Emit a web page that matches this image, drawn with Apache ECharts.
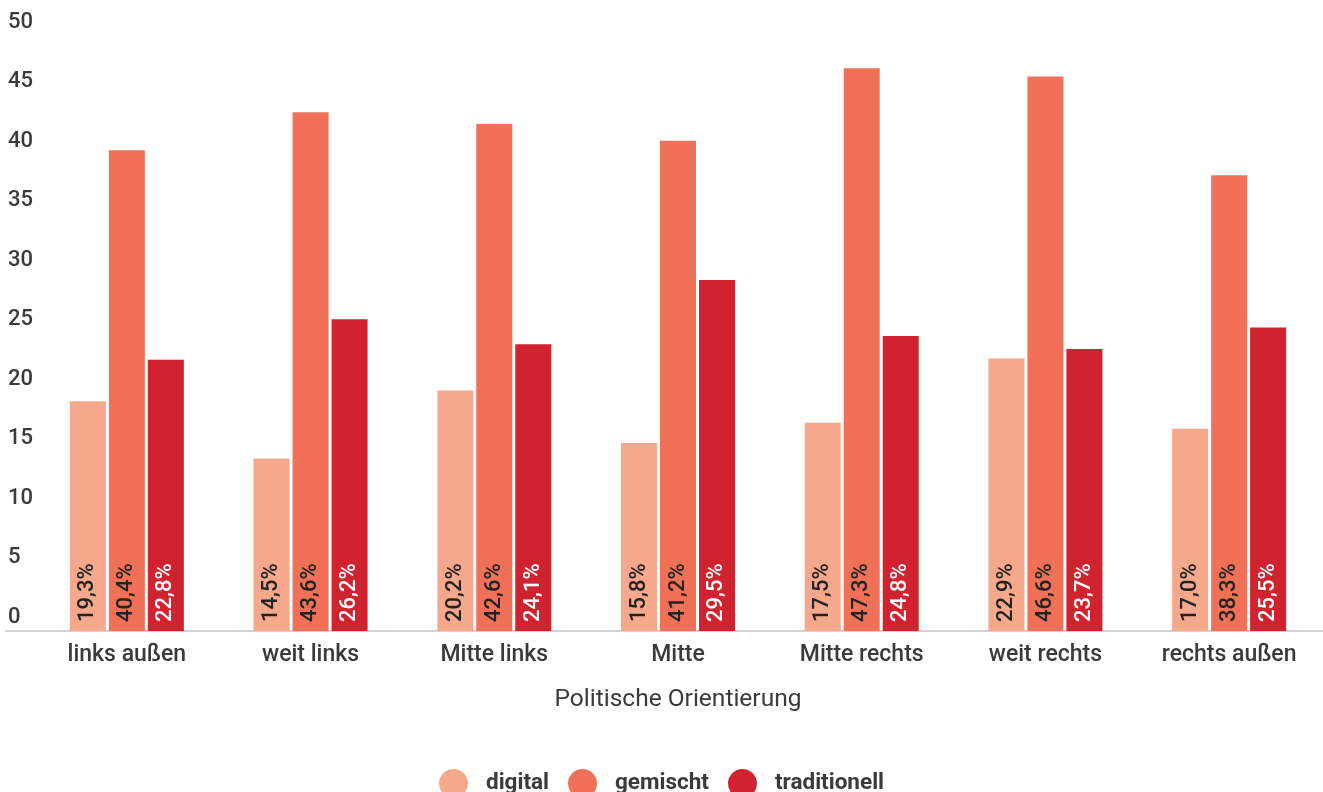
<!DOCTYPE html>
<html><head><meta charset="utf-8">
<script src="https://cdn.jsdelivr.net/npm/echarts@6/dist/echarts.min.js"></script>
<style>html,body{margin:0;padding:0;background:#fff}#c{width:1323px;height:792px}</style>
</head><body><div id="c"></div>
<script>
const categories = ['links außen','weit links','Mitte links','Mitte','Mitte rechts','weit rechts','rechts außen'];
const digital = [19.3, 14.5, 20.2, 15.8, 17.5, 22.9, 17.0];
const gemischt = [40.4, 43.6, 42.6, 41.2, 47.3, 46.6, 38.3];
const traditionell = [22.8, 26.2, 24.1, 29.5, 24.8, 23.7, 25.5];
const seriesNames = ['digital','gemischt','traditionell'];
const colors = ['#f5a88b','#f07157','#d0222f'];
const labelColors = ['#222222','#222222','#ffffff'];
const xAxisName = 'Politische Orientierung';

const FONT = 'Roboto';
const chart = echarts.init(document.getElementById('c'));
const fmt = v => v.toFixed(1).replace('.', ',') + '%';
const dataSets = [digital, gemischt, traditionell];
chart.setOption({
  animation: false,
  textStyle: {fontFamily: FONT},
  grid: [
    {left: 35, right: 2, top: 36, bottom: 161},
    {left: 6, right: 0, top: 36, bottom: 161}
  ],
  legend: {
    top: 764, left: 'center',
    icon: 'circle', itemWidth: 29, itemHeight: 29, itemGap: 19,
    textStyle: {fontFamily: FONT, fontSize: 22.5, fontWeight: 'bold', color: '#3a3a3a', padding: [0,0,0,13]},
    data: seriesNames
  },
  xAxis: [
    {type: 'category', gridIndex: 0, data: categories,
     axisLine: {show: false}, axisTick: {show: false},
     axisLabel: {fontSize: 23, fontWeight: 500, color: '#3a3a3a', margin: 13, fontFamily: FONT},
     name: xAxisName, nameLocation: 'middle', nameGap: 56,
     nameTextStyle: {fontSize: 24.5, color: '#3a3a3a', fontFamily: FONT}},
    {type: 'value', gridIndex: 1, min: 0, max: 1,
     axisLine: {show: true, lineStyle: {color: '#d3d3d3', width: 2}},
     axisTick: {show: false}, axisLabel: {show: false}, splitLine: {show: false}}
  ],
  yAxis: [
    {type: 'value', gridIndex: 0, min: 0, max: 50, interval: 5,
     axisLine: {show: false}, axisTick: {show: false}, splitLine: {show: false},
     axisLabel: {fontSize: 22, fontWeight: 500, color: '#3a3a3a', align: 'left', margin: 27, verticalAlign: 'bottom',
                 padding: [0,0,3,0], fontFamily: FONT}},
    {type: 'value', gridIndex: 1, min: 0, max: 1, show: false}
  ],
  series: seriesNames.map((n, i) => ({
    name: n, type: 'bar', xAxisIndex: 0, yAxisIndex: 0,
    data: dataSets[i], barWidth: 36, barGap: '8.3%',
    itemStyle: {color: colors[i]},
    label: {show: true, position: 'insideBottom', rotate: 90, align: 'left', verticalAlign: 'middle',
            distance: 9, fontSize: 22, fontWeight: 500, color: labelColors[i], fontFamily: FONT,
            formatter: p => fmt(p.value)}
  }))
});
</script></body></html>
